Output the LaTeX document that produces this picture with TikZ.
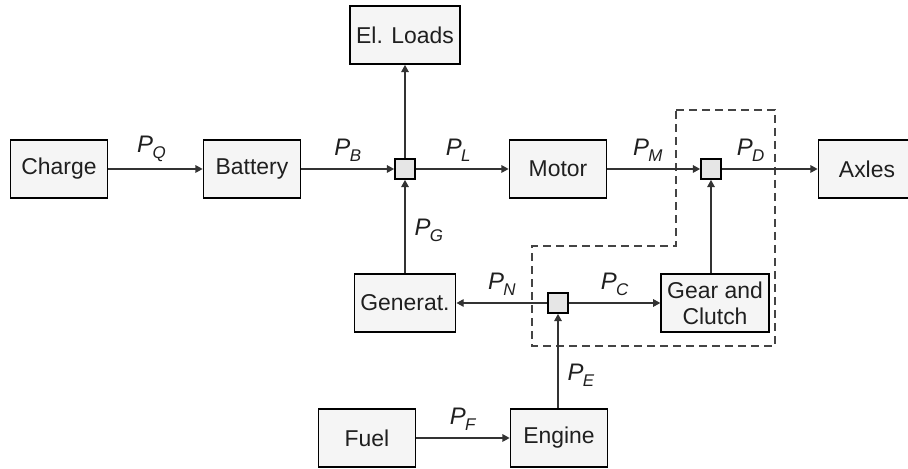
\documentclass[tikz,border=0pt]{standalone}
\usepackage{fontspec}
\setmainfont{Liberation Sans}
\definecolor{boxfill}{HTML}{F5F5F5}
\definecolor{jfill}{HTML}{E6E6E6}
\definecolor{wire}{HTML}{333333}
\definecolor{dashc}{HTML}{444444}
\usetikzlibrary{arrows.meta,positioning,calc}
\newcommand{\pw}[1]{\textit{P}\kern-0.3bp\raisebox{-3bp}{\fontsize{8.5}{9}\selectfont\textit{#1}}}
\tikzset{
  >={Triangle[length=3.6bp,width=3.8bp]},
  box/.style={draw=black,fill=boxfill,line width=0.9bp,inner sep=3bp,minimum width=48.5bp,minimum height=29bp,font=\fontsize{11.5}{13}\selectfont,text=black!88,align=center},
  jbox/.style={draw=black,fill=jfill,line width=0.9bp,inner sep=0pt,minimum size=10bp},
  lab/.style={font=\fontsize{12}{13}\selectfont,text=black!88,inner sep=1.5bp},
  arr/.style={->,draw=wire,line width=0.6bp},
  region/.style={draw=dashc,line width=0.6bp,dash pattern=on 4bp off 2.5bp},
}

\begin{document}
\begin{tikzpicture}[x=0.5bp,y=-0.5bp]
\useasboundingbox (0,0) rectangle (908,469);
% energy sources and sinks
\node[box] (charge) at (59,169) {Charge};
\node[box] (batt) at (252,169) {Battery};
\node[box] (loads) at (405,35) {El. Loads};
\node[box] (motor) at (558,169) {Motor};
\node[box] (axles) at (867,169) {Axles};
\node[box] (gen) at (405,303) {Generat.};
\node[box] (gear) at (715,303) {Gear and\\Clutch};
\node[box] (fuel) at (367,438) {Fuel};
\node[box] (eng) at (559,438) {Engine};
% power junctions
\node[jbox] (j1) at (405,169) {};
\node[jbox] (j2) at (711,169) {};
\node[jbox] (j3) at (558,303) {};
% drivetrain region
\draw[region] (676,110) -- (775,110) -- (775,346) -- (532,346) -- (532,246) -- (676,246) -- cycle;
% power flows
\draw[arr](charge)--node[lab,above=2bp,xshift=-2bp]{\pw{Q}}(batt);
\draw[arr](batt)--node[lab,above=2bp]{\pw{B}}(j1);
\draw[arr](j1)--(loads);
\draw[arr](j1)--node[lab,above=2bp,xshift=-2bp]{\pw{L}}(motor);
\draw[arr](motor)--node[lab,above=2bp,xshift=-3bp]{\pw{M}}(j2);
\draw[arr](j2)--node[lab,above=2bp,pos=0.3]{\pw{D}}(axles);
\draw[arr](gen)--node[lab,right=3bp,yshift=-2bp]{\pw{G}}(j1);
\draw[arr](j3)--node[lab,above=2bp]{\pw{N}}(gen);
\draw[arr](j3)--node[lab,above=2bp]{\pw{C}}(gear);
\draw[arr](gear.north -| j2)--(j2);
\draw[arr](eng.north -| j3)--node[lab,right=3bp,yshift=-7bp]{\pw{E}}(j3);
\draw[arr](fuel)--node[lab,above=2bp]{\pw{F}}(eng);
\end{tikzpicture}
\end{document}
